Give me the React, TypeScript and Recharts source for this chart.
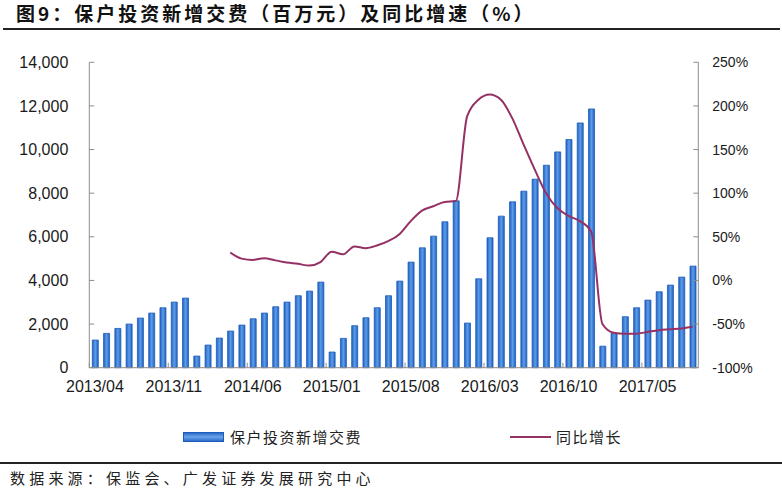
import React from 'react'
import { ComposedChart, Bar, Line, XAxis, YAxis } from 'recharts'

// 月份（累计口径），2013/04 - 2017/09
const months = [
  '2013/04', '2013/05', '2013/06', '2013/07', '2013/08', '2013/09', '2013/10', '2013/11', '2013/12',
  '2014/01', '2014/02', '2014/03', '2014/04', '2014/05', '2014/06', '2014/07', '2014/08', '2014/09',
  '2014/10', '2014/11', '2014/12',
  '2015/01', '2015/02', '2015/03', '2015/04', '2015/05', '2015/06', '2015/07', '2015/08', '2015/09',
  '2015/10', '2015/11', '2015/12',
  '2016/01', '2016/02', '2016/03', '2016/04', '2016/05', '2016/06', '2016/07', '2016/08', '2016/09',
  '2016/10', '2016/11', '2016/12',
  '2017/01', '2017/02', '2017/03', '2017/04', '2017/05', '2017/06', '2017/07', '2017/08', '2017/09'
]

// 保户投资新增交费（百万元）
const premium = [
  1267, 1572, 1800, 2000, 2275, 2504, 2748, 3008, 3191,
  534, 1038, 1359, 1679, 1954, 2244, 2504, 2794, 3008, 3298, 3511, 3924,
  718, 1344, 1924, 2290, 2748, 3298, 3969, 4840, 5496, 6031, 6687, 7649,
  2046, 4076, 5954, 6947, 7603, 8092, 8641, 9282, 9893, 10458, 11221, 11862,
  985, 1573, 2336, 2748, 3099, 3481, 3786, 4153, 4656
]

// 同比增长（%），2014/04 起
const yoy: (number | null)[] = [
  null, null, null, null, null, null, null, null, null,
  null, null, null, 32, 25, 23.5, 25.5, 23, 20.5, 19, 17, 21,
  33, 30, 39, 37, 40, 45, 53, 68, 80, 85, 90, 91,
  188, 207, 213, 207, 186, 156, 127, 100, 83, 74, 68, 56,
  -50, -60, -61, -61, -59, -57, -56, -55, -53
]

const leftTicks = [0, 2000, 4000, 6000, 8000, 10000, 12000, 14000]
const rightTicks = [-100, -50, 0, 50, 100, 150, 200, 250]

const data = months.map((m, i) => ({ month: m, premium: premium[i], yoy: yoy[i] }))

const PLOT_LEFT = 89.3
const PLOT_RIGHT = 698.3
const BAND = (PLOT_RIGHT - PLOT_LEFT) / months.length
const AXIS = '#8c8c8c'
const TEXT = '#1a1a1a'
const LINE = '#953163'
const latin = '"Liberation Sans", Arial, sans-serif'
const cjk = '"Noto Sans CJK SC", "Noto Sans", sans-serif'

const XTick = ({ x, y, payload }: any) => (
  <g>
    <line x1={x - BAND / 2} x2={x - BAND / 2} y1={y} y2={y - 5} stroke={AXIS} />
    <text x={x} y={y + 24} textAnchor="middle" fontSize={16} fill={TEXT} fontFamily={latin}>
      {payload.value}
    </text>
  </g>
)

export default function App() {
  return (
    <div
      style={{
        position: 'absolute',
        left: 0,
        top: 0,
        width: 782,
        height: 494,
        background: '#fff',
        overflow: 'hidden'
      }}
    >
      <div
        style={{
          position: 'absolute',
          left: 16,
          top: 3,
          fontFamily: cjk,
          fontWeight: 700,
          fontSize: 19,
          letterSpacing: 3,
          lineHeight: '20px',
          color: '#111',
          whiteSpace: 'nowrap'
        }}
      >
        图9：保户投资新增交费（百万元）及同比增速（%）
      </div>
      <div style={{ position: 'absolute', left: 3, right: 2, top: 28, height: 1.5, background: '#222' }} />

      <div style={{ position: 'absolute', left: 0, top: 0 }}>
        <ComposedChart
          width={782}
          height={400}
          data={data}
          margin={{ top: 62.3, right: 3.7, left: 9.3, bottom: 2.3 }}
        >
          <defs>
            <linearGradient id="barFill" x1="0" y1="0" x2="1" y2="0">
              <stop offset="0%" stopColor="#1f60c2" />
              <stop offset="50%" stopColor="#5d9de8" />
              <stop offset="100%" stopColor="#1f60c2" />
            </linearGradient>
          </defs>
          <XAxis
            dataKey="month"
            interval={6}
            height={30}
            tickSize={0}
            tickMargin={0}
            tickLine={false}
            axisLine={{ stroke: AXIS }}
            tick={<XTick />}
          />
          <YAxis
            yAxisId="left"
            width={80}
            domain={[0, 14000]}
            ticks={leftTicks}
            interval={0}
            tickFormatter={(v: number) => v.toLocaleString('en-US')}
            axisLine={{ stroke: AXIS }}
            tickLine={{ stroke: AXIS }}
            tickSize={-5}
            tickMargin={26}
            tick={{ fontSize: 16, fill: TEXT, fontFamily: latin }}
          />
          <YAxis
            yAxisId="right"
            orientation="right"
            width={80}
            domain={[-100, 250]}
            ticks={rightTicks}
            interval={0}
            tickFormatter={(v: number) => `${v}%`}
            axisLine={{ stroke: AXIS }}
            tickLine={{ stroke: AXIS }}
            tickSize={-5}
            tickMargin={19}
            tick={{ fontSize: 14, fill: TEXT, fontFamily: latin }}
          />
          <Bar
            yAxisId="left"
            dataKey="premium"
            barSize={6}
            fill="url(#barFill)"
            stroke="#1d5bb8"
            strokeWidth={0.8}
            isAnimationActive={false}
          />
          <Line
            yAxisId="right"
            dataKey="yoy"
            type="monotone"
            stroke={LINE}
            strokeWidth={2}
            dot={false}
            activeDot={false}
            isAnimationActive={false}
          />
        </ComposedChart>
      </div>

      {/* 图例 */}
      <div
        style={{
          position: 'absolute',
          left: 183,
          top: 432,
          width: 39,
          height: 8,
          border: '1px solid #1d5bb8',
          background: 'linear-gradient(to bottom, #2a6acb, #6aa5ea, #2a6acb)'
        }}
      />
      <div
        style={{
          position: 'absolute',
          left: 230,
          top: 428,
          fontFamily: cjk,
          fontSize: 15,
          letterSpacing: 1.5,
          lineHeight: '18px',
          color: '#222',
          whiteSpace: 'nowrap'
        }}
      >
        保户投资新增交费
      </div>
      <div style={{ position: 'absolute', left: 510, top: 436, width: 41, height: 2, background: LINE }} />
      <div
        style={{
          position: 'absolute',
          left: 556,
          top: 428,
          fontFamily: cjk,
          fontSize: 15,
          letterSpacing: 1.5,
          lineHeight: '18px',
          color: '#222',
          whiteSpace: 'nowrap'
        }}
      >
        同比增长
      </div>

      <div style={{ position: 'absolute', left: 0, right: 0, top: 462, height: 1.5, background: '#222' }} />
      <div
        style={{
          position: 'absolute',
          left: 10,
          top: 469,
          fontFamily: cjk,
          fontSize: 15,
          letterSpacing: 4.2,
          lineHeight: '18px',
          color: '#222',
          whiteSpace: 'nowrap'
        }}
      >
        数据来源：保监会、广发证券发展研究中心
      </div>
    </div>
  )
}
